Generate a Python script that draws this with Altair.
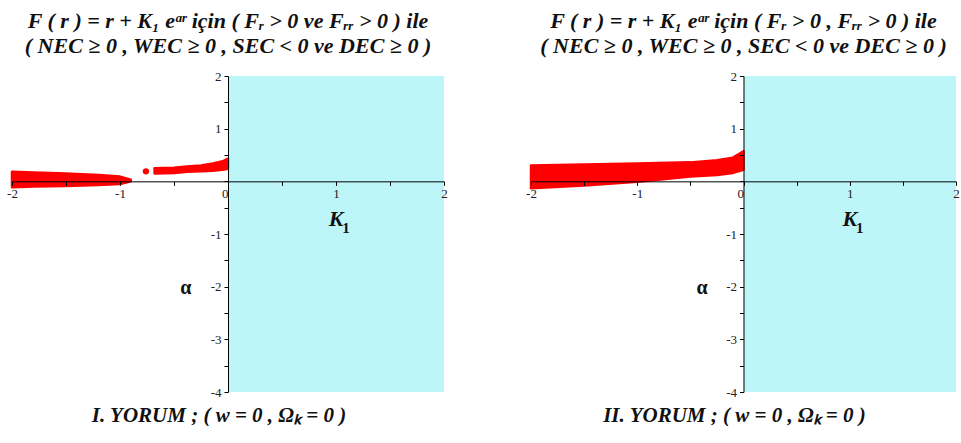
import altair as alt
import pandas as pd

RED = "#ff0000"
CYAN = "#bdf6f9"
SERIF = "Liberation Serif"

# Axis ticks (labels shown on whole numbers only)
K_TICKS = [-2, -1.5, -1, -0.5, 0, 0.5, 1, 1.5, 2]
A_TICKS = [-4, -3.5, -3, -2.5, -2, -1.5, -1, -0.5, 0, 0.5, 1, 1.5, 2]

# Shaded half-plane K1 >= 0
SHADE_K = [0, 2]
SHADE_A = [-4, 2]

# Panel I: allowed (K1, alpha) region
I_WEDGE_K = [-2.0, -1.8, -1.5, -1.2, -1.0, -0.9]
I_WEDGE_LO = [-0.11, -0.10, -0.09, -0.07, -0.05, 0.0]
I_WEDGE_HI = [0.18, 0.17, 0.15, 0.12, 0.09, 0.03]
I_STRIP_K = [-0.68, -0.5, -0.38, -0.25, -0.14, -0.05, 0.0]
I_STRIP_LO = [0.15, 0.16, 0.18, 0.19, 0.20, 0.22, 0.24]
I_STRIP_HI = [0.25, 0.26, 0.28, 0.30, 0.34, 0.38, 0.43]
I_DOT_K = [-0.76]
I_DOT_A = [0.19]

# Panel II: allowed (K1, alpha) region
II_BAND_K = [-2.0, -1.5, -1.0, -0.5, -0.25, -0.1, 0.0]
II_BAND_LO = [-0.13, -0.08, -0.01, 0.09, 0.12, 0.16, 0.22]
II_BAND_HI = [0.30, 0.32, 0.34, 0.36, 0.40, 0.45, 0.57]

TITLE_I = ["F ( r ) = r + K₁ eᵅʳ için  ( Fᵣ > 0 ve Fᵣᵣ > 0 ) ile",
           "( NEC ≥ 0 , WEC ≥ 0 , SEC < 0 ve DEC ≥ 0 )"]
TITLE_II = ["F ( r ) = r + K₁ eᵅʳ için ( Fᵣ > 0 , Fᵣᵣ > 0 ) ile",
            "( NEC ≥ 0 , WEC ≥ 0 , SEC < 0 ve DEC ≥ 0 )"]
CAPTION_I = "I. YORUM  ;   (  w = 0 , Ωₖ = 0  )"
CAPTION_II = "II. YORUM  ;  (  w = 0 , Ωₖ = 0  )"

H = 316


def panel(width, bands, dots, title, caption):
    xs = alt.Scale(domain=[-2, 2], nice=False, zero=False)
    ys = alt.Scale(domain=[-4, 2], nice=False, zero=False)

    x_axis = alt.Axis(
        values=K_TICKS, title=None, grid=False, offset=-H * 4 / 6,
        labelExpr="datum.value % 1 === 0 ? '' + datum.value : ''",
        labelAlign={"condition": {"test": "datum.value === 0", "value": "right"}, "value": "center"},
        labelFlush=False, labelOverlap=False, tickSize=4, labelPadding=2,
        domainColor="black", tickColor="black", labelColor="#222",
        labelFont=SERIF, labelFontSize=13, zindex=2,
    )
    y_axis = alt.Axis(
        values=A_TICKS, title=None, grid=False, offset=-width / 2,
        labelExpr="(datum.value % 1 === 0 && datum.value !== 0) ? '' + datum.value : ''",
        labelFlush=False, labelOverlap=False, tickSize=4, labelPadding=3,
        domainColor="black", tickColor="black", labelColor="#222",
        labelFont=SERIF, labelFontSize=13, zindex=2,
    )

    def X(f):
        return alt.X(f, scale=xs, axis=x_axis)

    def Y(f):
        return alt.Y(f, scale=ys, axis=y_axis)

    shade = alt.Chart(pd.DataFrame({
        "k0": [SHADE_K[0]], "k1": [SHADE_K[1]],
        "a0": [SHADE_A[0]], "a1": [SHADE_A[1]],
    })).mark_rect(color=CYAN).encode(
        x=X("k0:Q"), x2="k1:Q", y=Y("a0:Q"), y2="a1:Q",
    )

    rows = []
    for i, (ks, lo, hi) in enumerate(bands):
        for k, a, b in zip(ks, lo, hi):
            rows.append({"seg": i, "k": k, "lo": a, "hi": b})
    region = alt.Chart(pd.DataFrame(rows)).mark_area(
        color=RED, stroke=RED, strokeWidth=2.5, strokeJoin="round", opacity=1
    ).encode(
        x=X("k:Q"), y=Y("lo:Q"), y2="hi:Q", detail="seg:N",
    )

    layers = [shade, region]
    if dots is not None:
        pts = alt.Chart(pd.DataFrame({"k": dots[0], "a": dots[1]})).mark_circle(
            color=RED, size=40, opacity=1
        ).encode(x=X("k:Q"), y=Y("a:Q"))
        layers.append(pts)

    # Axis names placed in data coordinates
    k_lab = alt.Chart(pd.DataFrame({"k": [1.0], "a": [-0.72], "t": ["K"]})).mark_text(
        font=SERIF, fontSize=22, fontWeight="bold", fontStyle="italic", color="#111"
    ).encode(x=X("k:Q"), y=Y("a:Q"), text="t:N")
    k_sub = alt.Chart(pd.DataFrame({"k": [1.0], "a": [-0.72], "t": ["1"]})).mark_text(
        font=SERIF, fontSize=15, fontWeight="bold", color="#111", dx=10, dy=9
    ).encode(x=X("k:Q"), y=Y("a:Q"), text="t:N")
    a_lab = alt.Chart(pd.DataFrame({"k": [-0.39], "a": [-2.03], "t": ["α"]})).mark_text(
        font=SERIF, fontSize=20, fontWeight="bold", color="#111"
    ).encode(x=X("k:Q"), y=Y("a:Q"), text="t:N")
    layers += [k_lab, k_sub, a_lab]

    # Two-line heading and caption
    for line, ypos in zip(title, [-55, -30]):
        layers.append(
            alt.Chart(pd.DataFrame({"t": [line]})).mark_text(
                font=SERIF, fontSize=22, fontWeight="bold", fontStyle="italic", color="#111"
            ).encode(x=alt.value(width / 2), y=alt.value(ypos), text="t:N")
        )
    layers.append(
        alt.Chart(pd.DataFrame({"t": [caption]})).mark_text(
            font=SERIF, fontSize=21, fontWeight="bold", fontStyle="italic", color="#111"
        ).encode(x=alt.value(width / 2 - 9), y=alt.value(H + 24), text="t:N")
    )

    return alt.layer(*layers).properties(width=width, height=H)


left = panel(432,
             [(I_WEDGE_K, I_WEDGE_LO, I_WEDGE_HI), (I_STRIP_K, I_STRIP_LO, I_STRIP_HI)],
             (I_DOT_K, I_DOT_A), TITLE_I, CAPTION_I)
right = panel(425,
              [(II_BAND_K, II_BAND_LO, II_BAND_HI)],
              None, TITLE_II, CAPTION_II)

chart = alt.hconcat(left, right, spacing=87, bounds="flush").properties(
    padding={"left": 6, "top": 10, "right": 0, "bottom": 0},
    background="white",
).configure_view(strokeWidth=0)

chart.save("out.html", embed_options={"renderer": "svg", "actions": False})
